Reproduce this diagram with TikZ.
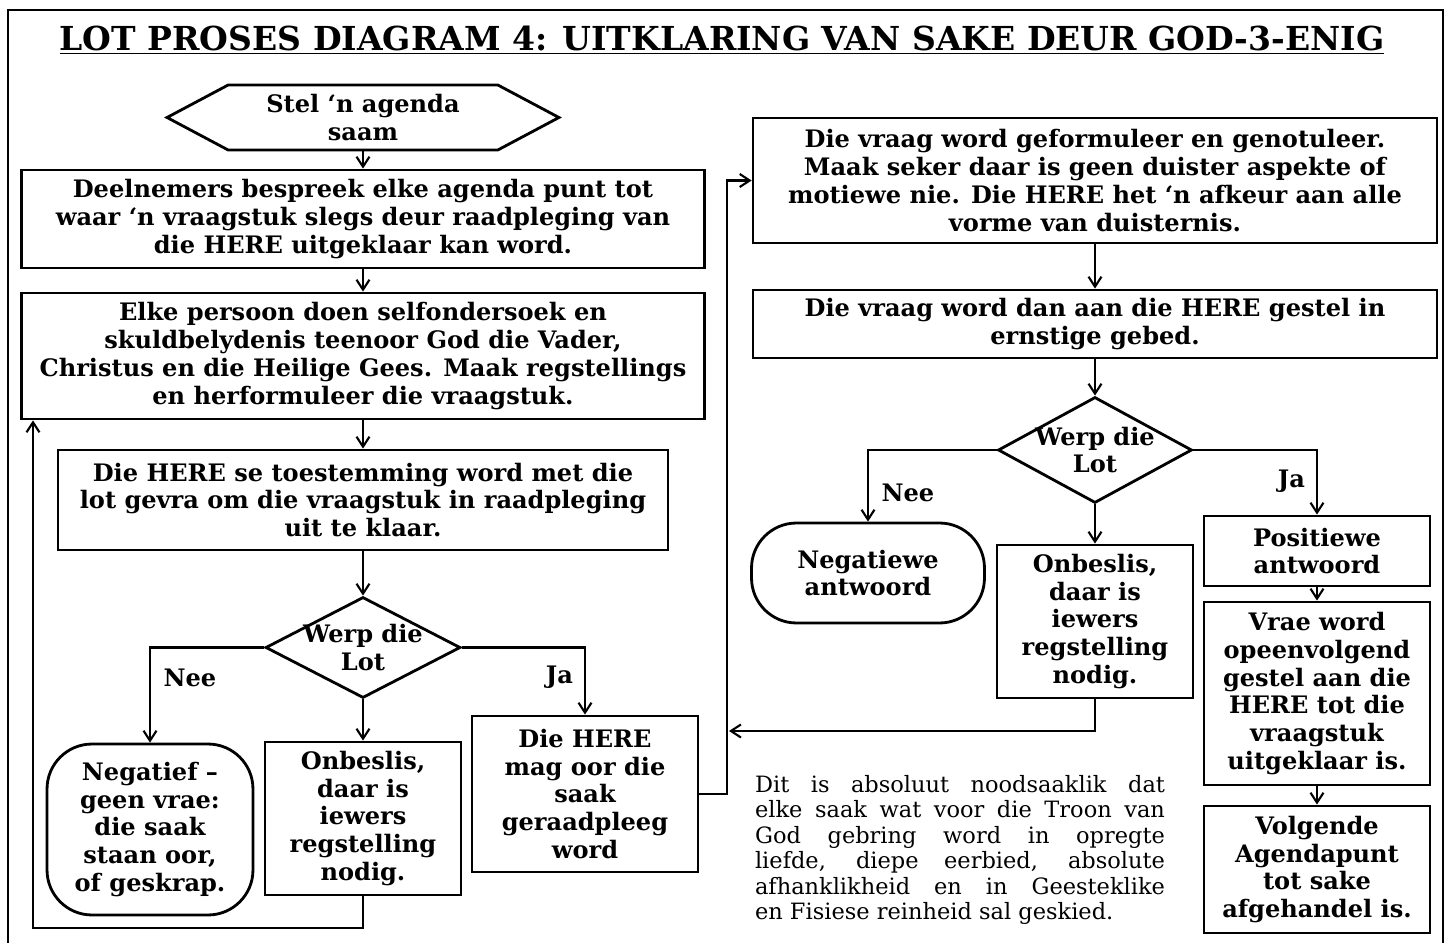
\documentclass[tikz,border=0pt]{standalone}
\usepackage{fontspec}
\setmainfont{DejaVu Serif}
\usetikzlibrary{arrows.meta, positioning, shapes.geometric, shapes.symbols}
\newcommand{\boxfont}{\bfseries\fontsize{13.7}{15.9}\selectfont}
\newcommand{\notefont}{\fontsize{12.8}{14.5}\selectfont}
\tikzstyle{stepbox} = [rectangle, draw, line width=1.6pt, align=center, inner sep=1pt, font=\boxfont]
\tikzstyle{roundbox} = [stepbox, rounded corners=0.9cm]
\tikzstyle{agenda} = [signal, signal to=west and east, signal pointer angle=56, draw, line width=1.6pt, align=center, inner sep=1pt, font=\boxfont, minimum width=7.84cm, minimum height=1.3cm]
\tikzstyle{decision} = [diamond, draw, line width=1.6pt, inner sep=0pt]
\tikzstyle{dlabel} = [align=center, font=\boxfont]
\tikzstyle{flow} = [-{Straight Barb[length=2mm, width=2.6mm]}, line width=1.2pt]
\tikzstyle{branchLabel} = [font=\boxfont, inner sep=0pt]

\begin{document}
\begin{tikzpicture}[x=0.02cm, y=-0.02cm]
    \useasboundingbox (0,0) rectangle (1455,943);
    % Frame
    \draw[line width=1.4pt] (8,10) rectangle (1443,980);

    % Title
    \node[font=\bfseries\fontsize{18.8}{22}\selectfont] (title) at (722,40) {\underline{LOT PROSES DIAGRAM 4: UITKLARING VAN SAKE DEUR GOD-3-ENIG}};

    % Left column
    \node[agenda] (agenda) at (363,117.5) {Stel ‘n agenda\\saam};
    \node[stepbox, minimum width=13.66cm, minimum height=1.96cm] (bespreek) at (363,219) {Deelnemers bespreek elke agenda punt tot\\waar ‘n vraagstuk slegs deur raadpleging van\\die HERE uitgeklaar kan word.};
    \node[stepbox, minimum width=13.66cm, minimum height=2.52cm] (ondersoek) at (363,356) {Elke persoon doen selfondersoek en\\skuldbelydenis teenoor God die Vader,\\Christus en die Heilige Gees. Maak regstellings\\en herformuleer die vraagstuk.};
    \node[stepbox, minimum width=12.2cm, minimum height=2cm] (toestemming) at (363,500) {Die HERE se toestemming word met die\\lot gevra om die vraagstuk in raadpleging\\uit te klaar.};
    \node[decision, minimum width=3.9cm, minimum height=2.02cm, label={[dlabel]center:{Werp die\\Lot}}] (lot1) at (363,647.5) {};

    % Outcomes of the first lot
    \node[roundbox, minimum width=4.12cm, minimum height=3.42cm] (negatief) at (150,829.5) {Negatief –\\geen vrae:\\die saak\\staan oor,\\of geskrap.};
    \node[stepbox, minimum width=3.92cm, minimum height=3.06cm] (onbeslis1) at (363,818.5) {Onbeslis,\\daar is\\iewers\\regstelling\\nodig.};
    \node[stepbox, minimum width=4.52cm, minimum height=3.12cm] (raadpleeg) at (585,794) {Die HERE\\mag oor die\\saak\\geraadpleeg\\word};

    % Right column
    \node[stepbox, minimum width=13.68cm, minimum height=2.5cm] (formuleer) at (1095,180.5) {Die vraag word geformuleer en genotuleer.\\Maak seker daar is geen duister aspekte of\\motiewe nie. Die HERE het ‘n afkeur aan alle\\vorme van duisternis.};
    \node[stepbox, minimum width=13.68cm, minimum height=1.36cm] (gebed) at (1095,324) {Die vraag word dan aan die HERE gestel in\\ernstige gebed.};
    \node[decision, minimum width=3.88cm, minimum height=2.12cm, label={[dlabel]center:{Werp die\\Lot}}] (lot2) at (1095,450) {};

    % Outcomes of the second lot
    \node[roundbox, minimum width=4.66cm, minimum height=2cm] (negatiewe) at (868,573) {Negatiewe\\antwoord};
    \node[stepbox, minimum width=3.92cm, minimum height=3.06cm] (onbeslis2) at (1095,621.5) {Onbeslis,\\daar is\\iewers\\regstelling\\nodig.};
    \node[stepbox, minimum width=4.52cm, minimum height=1.4cm] (positiewe) at (1317,551) {Positiewe\\antwoord};
    \node[stepbox, minimum width=4.52cm, minimum height=3.66cm] (vrae) at (1317,693.5) {Vrae word\\opeenvolgend\\gestel aan die\\HERE tot die\\vraagstuk\\uitgeklaar is.};
    \node[stepbox, minimum width=4.52cm, minimum height=2.54cm] (volgende) at (1317,869.5) {Volgende\\Agendapunt\\tot sake\\afgehandel is.};

    % Note
    \node[text width=8.2cm, align=justify, inner sep=0pt, font=\notefont] (note) at (960,850) {Dit is absoluut noodsaaklik dat\linebreak elke saak wat voor die Troon van\linebreak God gebring word in opregte\linebreak liefde, diepe eerbied, absolute\linebreak afhanklikheid en in Geesteklike\linebreak en Fisiese reinheid sal geskied.};

    % Helper points for the loops
    \coordinate (loopL) at (33,928);
    \coordinate (bus) at (727,500);
    \coordinate (join) at (729,731);

    % Arrows, left column
    \draw[flow] (agenda.south) -- (bespreek.north);
    \draw[flow] (bespreek.south) -- (ondersoek.north);
    \draw[flow] (ondersoek.south) -- (toestemming.north);
    \draw[flow] (toestemming.south) -- (lot1.north);
    \draw[flow] (lot1.west) -| (negatief.north) node[branchLabel, pos=0.66, right=0.25cm] {Nee};
    \draw[flow] (lot1.south) -- (onbeslis1.north);
    \draw[flow] (lot1.east) -| (raadpleeg.north) node[branchLabel, pos=0.72, left=0.22cm] {Ja};
    \draw[flow] (onbeslis1.south) |- (loopL) -- (loopL |- ondersoek.south);
    \draw[flow] (raadpleeg.east) -- (raadpleeg.east -| bus) |- (formuleer.west);

    % Arrows, right column
    \draw[flow] (formuleer.south) -- (gebed.north);
    \draw[flow] (gebed.south) -- (lot2.north);
    \draw[flow] (lot2.west) -| (negatiewe.north) node[branchLabel, pos=0.8, right=0.25cm] {Nee};
    \draw[flow] (lot2.south) -- (onbeslis2.north);
    \draw[flow] (lot2.east) -| (positiewe.north) node[branchLabel, pos=0.74, left=0.22cm] {Ja};
    \draw[flow] (onbeslis2.south) |- (join);
    \draw[flow] (positiewe.south) -- (vrae.north);
    \draw[flow] (vrae.south) -- (volgende.north);
\end{tikzpicture}
\end{document}
